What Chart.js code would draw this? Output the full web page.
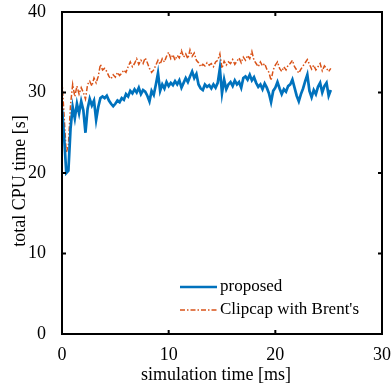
<!DOCTYPE html>
<html>
<head>
<meta charset="utf-8">
<script src="https://cdn.jsdelivr.net/npm/chart.js@4/dist/chart.umd.min.js"></script>
<style>
html,body{margin:0;padding:0;background:#fff;}
#wrap{width:391px;height:386px;position:relative;}
</style>
</head>
<body>
<div id="wrap"><canvas id="c" width="391" height="386"></canvas></div>
<script>
const xStep = 0.2;
const seriesNames = ["proposed", "Clipcap with Brent's"];
const proposed = [
28.0,24.5,20.0,20.3,25.5,28.2,26.8,28.6,27.4,28.9,
27.8,25.0,28.0,29.2,28.4,29.0,26.6,28.2,29.3,29.5,
29.3,29.6,29.0,28.6,28.3,28.6,29.0,28.8,29.3,29.1,
29.8,29.5,30.2,29.9,30.4,30.0,30.6,29.8,30.3,30.1,
29.6,28.9,30.2,29.7,31.0,32.4,30.2,31.0,30.5,31.3,
30.8,31.2,30.9,31.4,31.0,31.5,30.6,31.2,31.8,31.3,
32.0,32.6,31.8,32.3,31.0,30.5,30.3,31.0,30.7,30.9,
30.5,31.0,30.6,31.2,33.0,29.9,31.6,30.4,31.0,31.3,
30.8,31.5,31.0,31.3,30.6,31.8,32.0,31.6,32.2,31.5,
31.9,31.2,30.7,31.0,30.4,31.1,30.6,29.9,28.8,30.2,
30.6,31.3,30.5,29.8,30.4,30.1,30.8,31.0,31.6,30.6,
29.6,28.9,29.8,30.5,31.4,32.2,30.2,29.4,30.3,29.8,
30.7,31.2,30.0,30.8,31.2,29.6,30.3
];
const clipcap = [
31.5,27.0,22.5,23.5,28.5,31.0,29.5,30.8,29.8,30.6,
30.0,29.2,31.0,31.4,30.8,31.8,31.2,32.0,33.5,32.8,
33.0,32.6,32.0,31.7,32.2,31.9,32.5,32.1,32.4,32.8,
32.5,33.2,33.8,33.2,33.6,34.2,33.5,34.0,33.6,34.3,
33.7,33.0,32.5,32.8,33.4,34.0,33.5,34.2,33.8,34.5,
35.0,34.2,34.7,34.0,34.6,34.3,35.2,34.4,34.8,34.2,
35.3,34.5,34.9,34.0,33.7,33.2,33.5,33.3,33.7,33.4,
33.6,33.2,33.8,34.0,34.8,33.0,33.9,33.4,33.8,33.6,
34.1,33.5,33.9,34.3,33.7,34.4,34.0,34.6,34.2,35.1,
34.0,33.6,33.2,33.8,33.3,33.6,32.9,32.5,31.5,32.8,
33.4,33.8,33.0,32.6,33.2,32.8,33.4,33.6,34.0,33.2,
32.8,32.4,32.9,33.3,33.7,34.1,33.5,32.9,33.4,32.8,
33.2,33.6,32.7,33.3,33.0,32.6,33.0
];
const xTicks = [0,10,20,30];
const yTicks = [0,10,20,30,40];
const xTitle = "simulation time [ms]";
const yTitle = "total CPU time [s]";

const times = proposed.map((_, i) => +(i * xStep).toFixed(2));
const toPts = arr => arr.map((v, i) => ({x: times[i], y: v}));

const FONT = "'Liberation Serif','Times New Roman',serif";
const BLUE = '#0072BD', ORANGE = '#D95319';

const framePlugin = {
  id: 'frame',
  afterDraw(chart) {
    const {ctx, chartArea: a, scales} = chart;
    ctx.save();
    ctx.strokeStyle = '#000';
    ctx.lineWidth = 2;
    ctx.strokeRect(a.left, a.top, a.right - a.left, a.bottom - a.top);
    const tl = 4;
    ctx.beginPath();
    xTicks.forEach(v => {
      const px = scales.x.getPixelForValue(v);
      ctx.moveTo(px, a.bottom); ctx.lineTo(px, a.bottom - tl);
      ctx.moveTo(px, a.top); ctx.lineTo(px, a.top + tl);
    });
    yTicks.forEach(v => {
      const py = scales.y.getPixelForValue(v);
      ctx.moveTo(a.left, py); ctx.lineTo(a.left + tl, py);
      ctx.moveTo(a.right, py); ctx.lineTo(a.right - tl, py);
    });
    ctx.stroke();
    // axis titles
    ctx.fillStyle = '#000';
    ctx.font = "18px " + FONT;
    ctx.textAlign = 'center';
    ctx.textBaseline = 'middle';
    ctx.fillText(xTitle, (a.left + a.right) / 2 - 6, a.bottom + 41);
    ctx.save();
    ctx.translate(20, (a.top + a.bottom) / 2 + 8);
    ctx.rotate(-Math.PI / 2);
    ctx.fillText(yTitle, 0, 0);
    ctx.restore();
    // legend
    const ds = chart.data.datasets;
    const lx0 = a.left + 118, lx1 = lx0 + 37, ty0 = a.bottom - 47, gap = 23;
    ctx.font = "17px " + FONT;
    ctx.textAlign = 'left';
    ctx.textBaseline = 'middle';
    ds.forEach((d, i) => {
      const yy = ty0 + i * gap;
      ctx.beginPath();
      ctx.strokeStyle = d.borderColor;
      ctx.lineWidth = d.borderWidth;
      ctx.setLineDash(d.borderDash || []);
      ctx.moveTo(lx0, yy); ctx.lineTo(lx1, yy);
      ctx.stroke();
      ctx.setLineDash([]);
      ctx.fillText(d.label, lx1 + 3, yy);
    });
    ctx.restore();
  }
};

new Chart(document.getElementById('c'), {
  type: 'line',
  data: {
    datasets: [
      {label: seriesNames[0], data: toPts(proposed), borderColor: BLUE, borderWidth: 2.7, pointRadius: 0, tension: 0, fill: false},
      {label: seriesNames[1], data: toPts(clipcap), borderColor: ORANGE, borderWidth: 1.5, borderDash: [5, 2, 1.5, 2], pointRadius: 0, tension: 0, fill: false}
    ]
  },
  options: {
    responsive: false,
    animation: false,
    layout: {padding: {left: 0, top: 12, right: 9, bottom: 0}},
    plugins: {legend: {display: false}, tooltip: {enabled: false}},
    scales: {
      x: {
        type: 'linear', min: 0, max: 30,
        afterBuildTicks: s => { s.ticks = xTicks.map(v => ({value: v})); },
        afterFit: s => { s.height = 52; s.paddingLeft = 0; s.paddingRight = 0; },
        grid: {display: false},
        border: {display: false},
        ticks: {color: '#000', font: {family: FONT, size: 18}, padding: 2, maxRotation: 0},
        title: {display: false}
      },
      y: {
        type: 'linear', min: 0, max: 40,
        afterBuildTicks: s => { s.ticks = yTicks.map(v => ({value: v})); },
        afterFit: s => { s.width = 62; s.paddingTop = 0; s.paddingBottom = 0; },
        grid: {display: false},
        border: {display: false},
        ticks: {color: '#000', font: {family: FONT, size: 18}, padding: 8},
        title: {display: false}
      }
    }
  },
  plugins: [framePlugin]
});
</script>
</body>
</html>
